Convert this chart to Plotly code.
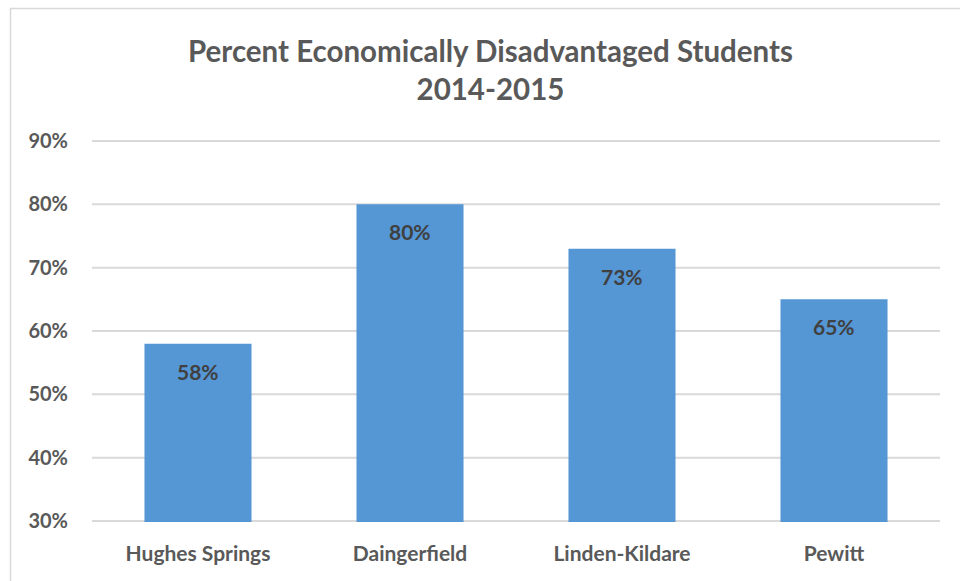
import plotly.graph_objects as go

categories = ["Hughes Springs", "Daingerfield", "Linden-Kildare", "Pewitt"]
values = [58, 80, 73, 65]
labels = ["58%", "80%", "73%", "65%"]
y_ticks = [30, 40, 50, 60, 70, 80, 90]
y_tick_text = ["30%", "40%", "50%", "60%", "70%", "80%", "90%"]

W, H = 960, 581
L, R, T, B = 92, 20, 140, 59
pw, ph = W - L - R, H - T - B

def px_x(px):
    return (px - L) / pw

def px_y(py):
    return (H - B - py) / ph

FONT = "Lato"
GREY = "#595959"

fig = go.Figure()
fig.add_trace(go.Bar(
    x=categories, y=values, width=0.505,
    marker=dict(color="#5596d5", line=dict(width=0)),
    hoverinfo="skip",
))

for yt in y_ticks:
    fig.add_shape(type="line", xref="paper", yref="y", x0=0, x1=1, y0=yt, y1=yt,
                  line=dict(color="#d9d9d9", width=2), layer="below")

for c, v, t in zip(categories, values, labels):
    fig.add_annotation(x=c, y=v, xref="x", yref="y", text=t, showarrow=False,
                       yanchor="top", yshift=-13,
                       font=dict(family=FONT, size=21, color="#404040", weight="bold"))

fig.add_annotation(x=px_x(490), y=px_y(69), xref="paper", yref="paper",
                   text="Percent Economically Disadvantaged Students<br>2014-2015",
                   showarrow=False, xanchor="center", yanchor="middle",
                   font=dict(family=FONT, size=29.5, color=GREY, weight="bold"))

fig.add_shape(type="rect", xref="paper", yref="paper",
              x0=px_x(10.5), x1=px_x(975), y0=px_y(8.5), y1=px_y(600),
              line=dict(color="#d9d9d9", width=1.5), fillcolor="rgba(0,0,0,0)", layer="below")

fig.update_layout(
    width=W, height=H,
    margin=dict(l=L, r=R, t=T, b=B, pad=0),
    paper_bgcolor="white", plot_bgcolor="white",
    showlegend=False,
    hovermode=False,
    font=dict(family=FONT, color=GREY),
    xaxis=dict(showgrid=False, zeroline=False, showline=False, ticks="",
               ticklabelstandoff=17,
               tickfont=dict(family=FONT, size=21, color=GREY, weight="bold")),
    yaxis=dict(range=[29.85, 90.15], tickvals=y_ticks, ticktext=y_tick_text,
               showgrid=False,
               zeroline=False, showline=False, ticks="",
               ticklabelstandoff=23,
               tickfont=dict(family=FONT, size=20, color=GREY, weight="bold")),
)

fig.write_html("out.html", config={"displayModeBar": False},
               post_script="document.body.style.margin='0px';document.body.style.overflow='hidden';")
